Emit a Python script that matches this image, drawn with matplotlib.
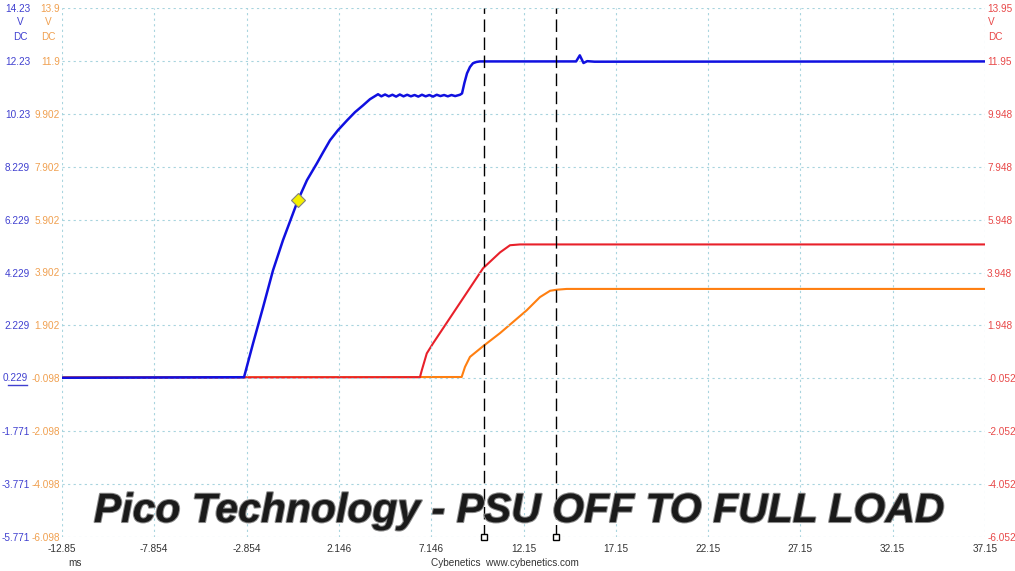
import matplotlib
matplotlib.use("Agg")
import matplotlib.pyplot as plt
import matplotlib.patheffects as pe

plt.rcParams["font.family"] = ["Liberation Sans", "DejaVu Sans"]

# time axis (ms)
x_ticks = [-12.85, -7.854, -2.854, 2.146, 7.146, 12.15, 17.15, 22.15, 27.15, 32.15, 37.15]
x_labels = ["-12.85", "-7.854", "-2.854", "2.146", "7.146", "12.15", "17.15", "22.15", "27.15", "32.15", "37.15"]

# axis scales (V)
blue_ticks = ["14.23", "12.23", "10.23", "8.229", "6.229", "4.229", "2.229", "0.229", "-1.771", "-3.771", "-5.771"]
orange_ticks = ["13.9", "11.9", "9.902", "7.902", "5.902", "3.902", "1.902", "-0.098", "-2.098", "-4.098", "-6.098"]
red_ticks = ["13.95", "11.95", "9.948", "7.948", "5.948", "3.948", "1.948", "-0.052", "-2.052", "-4.052", "-6.052"]

# 12V rail (blue, left scale)
blue_t = [-12.85, -2.99, -2.50, -1.96, -1.42, -0.88, -0.07, 0.42, 0.96, 1.29, 1.67, 2.10,
          2.59, 3.02, 3.46, 3.83, 4.27,
          4.45, 4.65, 4.85, 5.05, 5.25, 5.45, 5.65, 5.85, 6.05, 6.25, 6.45, 6.65,
          6.85, 7.05, 7.25, 7.45, 7.65, 7.85, 8.05, 8.25, 8.45, 8.71,
          8.82, 8.95, 9.09, 9.25, 9.41, 9.6, 9.79, 10.5, 15.0, 15.2, 15.4, 15.6, 16.0, 37.15]
blue_v = [0.25, 0.27, 1.55, 2.91, 4.31, 5.45, 6.96, 7.72, 8.36, 8.77, 9.23, 9.61,
          9.98, 10.29, 10.55, 10.78, 10.97,
          10.89, 10.96, 10.89, 10.95, 10.88, 10.96, 10.89, 10.95, 10.89, 10.94, 10.88, 10.95,
          10.89, 10.94, 10.88, 10.95, 10.90, 10.94, 10.89, 10.94, 10.90, 10.95,
          11.0, 11.4, 11.76, 12.0, 12.14, 12.19, 12.21, 12.21, 12.21, 12.44, 12.15, 12.22, 12.2, 12.21]
marker_t = -0.07
marker_v = 6.96

# 5V rail (red, right scale)
red_t = [-12.85, 6.54, 6.64, 6.91, 7.25, 9.96, 10.88, 11.42, 11.96, 37.15]
red_v = [-0.03, -0.01, 0.25, 0.89, 1.27, 4.11, 4.71, 4.98, 5.01, 5.01]

# 3.3V rail (orange, middle scale)
orange_t = [-12.85, 8.80, 8.98, 9.25, 9.97, 10.88, 12.32, 13.04, 13.59, 13.95, 14.49, 37.15]
orange_v = [-0.06, -0.05, 0.33, 0.71, 1.12, 1.61, 2.47, 2.97, 3.21, 3.25, 3.28, 3.28]

cursors = [10.0, 13.9]

c_blue = "#1010e0"
c_red = "#e8202a"
c_orange = "#ff7f10"
lab_blue = "#4040d0"
lab_orange = "#f0a050"
lab_red = "#e84848"
grid_c = "#a8d4de"
fs = 7.2

fig = plt.figure(figsize=(10.15, 5.71), dpi=100)
W, H = 1015, 571
ax = fig.add_axes([62 / W, 34 / H, 923 / W, 529 / H])
ax_or = ax.twinx()
ax_red = ax.twinx()

bt = [float(s) for s in blue_ticks]
ot = [float(s) for s in orange_ticks]
rt = [float(s) for s in red_ticks]
ax.set_ylim(bt[-1], bt[0])
ax_or.set_ylim(ot[-1], ot[0])
ax_red.set_ylim(rt[-1], rt[0])
ax.set_xlim(x_ticks[0], x_ticks[-1])

for a in (ax, ax_or, ax_red):
    for s in a.spines.values():
        s.set_visible(False)

ax.set_xticks(x_ticks)
ax.set_xticklabels(x_labels)
ax.tick_params(axis="x", length=0, pad=5, labelsize=fs, labelcolor="#333333")
ax.set_yticks(bt)
ax.set_yticklabels(["" if s == "0.229" else s for s in blue_ticks])
ax.tick_params(axis="y", length=0, pad=23, labelsize=fs, labelcolor=lab_blue)
ax.grid(True, color=grid_c, linestyle=(0, (2, 3)), linewidth=0.8)

ax_or.yaxis.tick_left()
ax_or.set_yticks(ot)
ax_or.set_yticklabels(orange_ticks)
ax_or.tick_params(axis="y", length=0, pad=1.5, labelsize=fs, labelcolor=lab_orange)

ax_red.set_yticks(rt)
ax_red.set_yticklabels(red_ticks)
ax_red.tick_params(axis="y", length=0, pad=1.5, labelsize=fs, labelcolor=lab_red)

# underlined reference label
fig.text(28 / W, 1 - 378 / H, "0.229", color=lab_blue, fontsize=fs, ha="right", va="center")
fig.add_artist(plt.Line2D([8 / W, 27 / W], [1 - 385 / H, 1 - 385 / H], color=lab_blue, lw=1))

# unit labels
for x, c in [(20, lab_blue), (48, lab_orange)]:
    fig.text(x / W, 1 - 22 / H, "V", color=c, fontsize=fs, ha="center", va="center")
    fig.text(x / W, 1 - 37 / H, "DC", color=c, fontsize=fs, ha="center", va="center")
fig.text(988 / W, 1 - 22 / H, "V", color=lab_red, fontsize=fs, ha="left", va="center")
fig.text(988 / W, 1 - 37 / H, "DC", color=lab_red, fontsize=fs, ha="left", va="center")

ax_red.plot(red_t, red_v, color=c_red, lw=1.5, zorder=3)
ax_or.plot(orange_t, orange_v, color=c_orange, lw=1.5, zorder=3)
ax.set_zorder(ax_red.get_zorder() + 1)
ax.patch.set_visible(False)
ax.plot(blue_t, blue_v, color=c_blue, lw=1.8, zorder=4)
ax.plot([marker_t], [marker_v], marker="D", ms=7, mfc="#f5f000", mec="#808080", mew=0.8, zorder=5)

for c in cursors:
    ax.axvline(c, color="black", lw=1, linestyle=(0, (9, 4)), zorder=5)
    ax.plot([c], [bt[-1]], marker="s", ms=5, mfc="white", mec="black", mew=1,
            clip_on=False, zorder=6)

fig.text(68 / W, 1 - 563 / H, "ms", fontsize=fs, color="#333333", ha="left", va="center")
fig.text(505 / W, 1 - 563 / H, "Cybenetics  www.cybenetics.com", fontsize=fs,
         color="#333333", ha="center", va="center")

fig.text(519 / W, 1 - 522 / H, "Pico Technology - PSU OFF TO FULL LOAD",
         family="Liberation Sans", fontweight="bold", style="italic", fontsize=29.5,
         color="#1a1a1a", ha="center", va="baseline",
         path_effects=[pe.withStroke(linewidth=1.5, foreground="#8a8a8a")], zorder=10)

fig.savefig("out.png", dpi=100, facecolor="white")
